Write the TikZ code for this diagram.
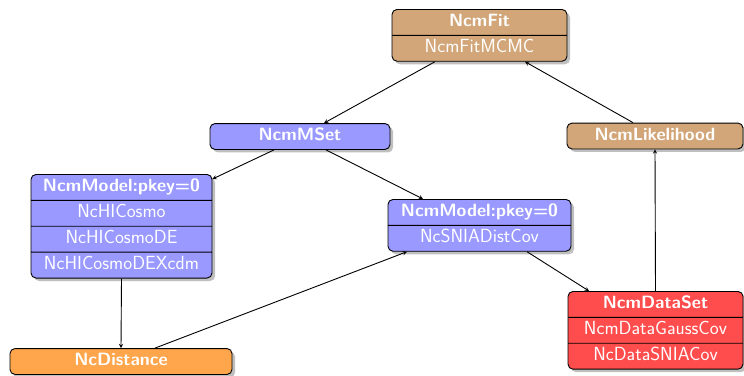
\documentclass[tikz,border=0pt]{standalone}
\usetikzlibrary{shapes.multipart,shadows}
\newcommand{\hd}[1]{{\fontsize{17.8}{21}\selectfont\bfseries #1}}

\begin{document}
\begin{tikzpicture}[->,>=stealth,x=1pt,y=-1pt,line width=0.9pt,
  classbox/.style={-,rectangle split,rectangle split parts=#1,draw,
    rounded corners=5pt,drop shadow={shadow xshift=3pt,shadow yshift=-3pt},
    text=white,inner ysep=2pt,font=\sffamily\fontsize{19}{21}\selectfont}]

  \useasboundingbox (0,0) rectangle (744,375);

  \node[classbox=2,fill=brown!70,minimum width=175pt,anchor=north] (fit) at (479.5,9)
    {\strut\hd{NcmFit}\nodepart{second}\strut NcmFitMCMC};
  \node[classbox=1,fill=blue!40,minimum width=180pt] (mset) at (300,136.5)
    {\strut\hd{NcmMSet}};
  \node[classbox=1,fill=brown!70,minimum width=176pt] (lik) at (655,136)
    {\strut\hd{NcmLikelihood}};
  \node[classbox=4,fill=blue!40,minimum width=181pt,anchor=north] (hic) at (121.5,174)
    {\strut\hd{NcmModel:pkey=0}\nodepart{second}\strut NcHICosmo
     \nodepart{third}\strut NcHICosmoDE\nodepart{fourth}\strut NcHICosmoDEXcdm};
  \node[classbox=2,fill=blue!40,minimum width=183pt,anchor=north] (snia) at (479.5,199)
    {\strut\hd{NcmModel:pkey=0}\nodepart{second}\strut NcSNIADistCov};
  \node[classbox=3,fill=red!70,minimum width=175pt,anchor=north] (dset) at (655.5,291)
    {\strut\hd{NcmDataSet}\nodepart{second}\strut NcmDataGaussCov
     \nodepart{third}\strut NcDataSNIACov};
  \node[classbox=1,fill=orange!70,minimum width=222pt] (dist) at (121,361.5)
    {\strut\hd{NcDistance}};

  \path
    ([xshift=-44.5pt]fit.south) edge ([xshift=24pt]mset.north)
    ([xshift=-22pt]lik.north) edge ([xshift=45.5pt]fit.south)
    ([xshift=-26pt]mset.south) edge ([yshift=-5pt]hic.north east)
    ([xshift=26pt]mset.south) edge ([xshift=-56.5pt]snia.north)
    (hic.south) edge (dist.north)
    ([xshift=34pt]dist.north) edge ([xshift=-72.5pt]snia.south)
    ([xshift=47.5pt]snia.south) edge ([xshift=-66.5pt]dset.north)
    (dset.north) edge (lik.south);
\end{tikzpicture}
\end{document}
